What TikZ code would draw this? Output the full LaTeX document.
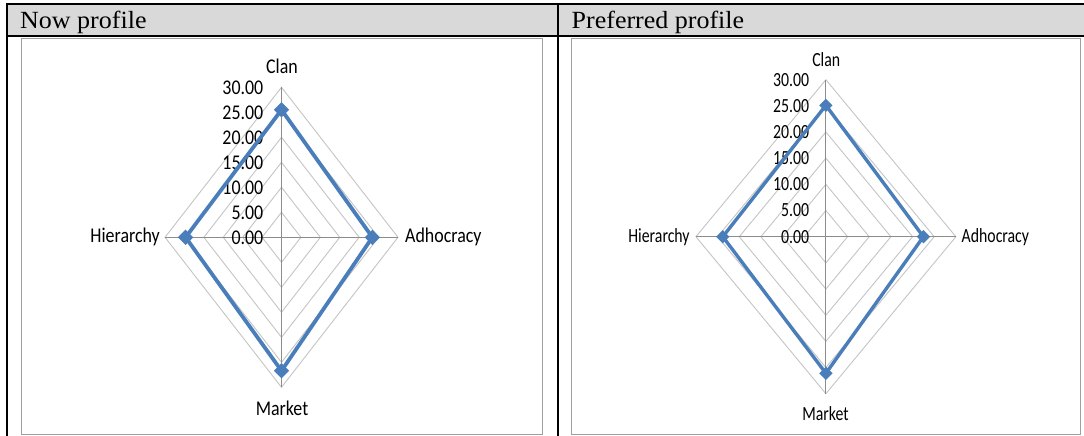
\documentclass[tikz,border=0pt]{standalone}
\usepackage{fontspec}
\usepackage{graphicx}
\setmainfont{Liberation Serif}
\newfontfamily\chartfont{Carlito}
\usetikzlibrary{shapes.geometric}

\definecolor{hdrfill}{HTML}{D9D9D9}
\definecolor{series}{HTML}{4A7EBB}
\definecolor{ringgray}{HTML}{C4C4C4}
\definecolor{spokegray}{HTML}{8C8C8C}
\definecolor{framegray}{HTML}{A0A0A0}

% text squeezed or stretched vertically
\newcommand\vstretch[2]{\scalebox{1}[#1]{#2}}

\tikzset{
  rule/.style={line width=2.2pt, black},
  hdrtext/.style={inner sep=0pt, font=\fontsize{26}{30}\selectfont},
  framebox/.style={draw=framegray, line width=1.3pt},
  ring/.style={draw=ringgray, line width=0.9pt},
  spoke/.style={draw=spokegray, line width=0.9pt},
  seriesline/.style={draw=series, line width=3.8pt, line join=miter},
  marker/.style={diamond, fill=series, inner sep=0pt, minimum size=15.5pt},
  catL/.style={inner sep=0pt, font=\chartfont\fontsize{17.9}{21}\selectfont},
  catR/.style={inner sep=0pt, font=\chartfont\fontsize{15.8}{19}\selectfont},
}

\begin{document}
\begin{tikzpicture}[x=1pt, y=-1pt]
\useasboundingbox (0,0) rectangle (1084,436);

% table header row
\fill[hdrfill] (8,5.4) rectangle (1084,35.2);
\draw[rule] (6,4.3) -- (1084,4.3);
\draw[rule] (6,36.3) -- (1084,36.3);
\draw[rule] (7,3.2) -- (7,436);
\draw[rule] (557.8,3.2) -- (557.8,436);

\node[hdrtext, anchor=base west] (nowhdr) at (20,28.5) {\vstretch{0.95}{Now profile}};
\node[hdrtext, anchor=base west] (prefhdr) at (571.5,28.5) {\vstretch{0.95}{Preferred profile}};

% chart frames
\draw[framebox] (21.5,38.6) rectangle (542.7,434.5);
\draw[framebox] (571.3,38.6) rectangle (1080.3,434.5);

% ---------- left radar chart: now profile (data units, y up) ----------
\begin{scope}[shift={(281.5,237.3)}, x=3.883pt, y=5pt]
  \foreach \r in {5,10,...,30}
    \draw[ring] (0,\r) -- (\r,0) -- (0,-\r) -- (-\r,0) -- cycle;
  \draw[spoke] (0,-30) -- (0,30) (-30,0) -- (30,0);
  \foreach \r in {0,5,...,30}
    \node[catL, anchor=east, xshift=-18pt] (tickL\r) at (0,\r) {\vstretch{1.17}{\r.00}};
  \coordinate (LC) at (0,25.5);
  \coordinate (LA) at (23.4,0);
  \coordinate (LM) at (0,-26.7);
  \coordinate (LH) at (-24.7,0);
  \draw[seriesline] (LC) -- (LA) -- (LM) -- (LH) -- cycle;
  \node[marker] (LCm) at (LC) {};
  \node[marker] (LAm) at (LA) {};
  \node[marker] (LMm) at (LM) {};
  \node[marker] (LHm) at (LH) {};
\end{scope}
\node[catL, anchor=center] (LClan) at (282,66) {\vstretch{1.17}{Clan}};
\node[catL, anchor=west] (LAdh) at (405,237.3) {\vstretch{1.17}{Adhocracy}};
\node[catL, anchor=east] (LHie) at (160,237.3) {\vstretch{1.17}{Hierarchy}};
\node[catL, anchor=center] (LMar) at (282,408) {\vstretch{1.17}{Market}};

% ---------- right radar chart: preferred profile (data units, y up) ----------
\begin{scope}[shift={(825.9,236.7)}, x=4.333pt, y=5.233pt]
  \foreach \r in {5,10,...,30}
    \draw[ring] (0,\r) -- (\r,0) -- (0,-\r) -- (-\r,0) -- cycle;
  \draw[spoke] (0,-30) -- (0,30) (-30,0) -- (30,0);
  \foreach \r in {0,5,...,30}
    \node[catR, anchor=east, xshift=-16.6pt] (tickR\r) at (0,\r) {\vstretch{1.27}{\r.00}};
  \coordinate (RC) at (0,25.1);
  \coordinate (RA) at (22.5,0);
  \coordinate (RM) at (0,-26.1);
  \coordinate (RH) at (-23.8,0);
  \draw[seriesline, line width=3.4pt] (RC) -- (RA) -- (RM) -- (RH) -- cycle;
  \node[marker, minimum size=13.5pt] (RCm) at (RC) {};
  \node[marker, minimum size=13.5pt] (RAm) at (RA) {};
  \node[marker, minimum size=13.5pt] (RMm) at (RM) {};
  \node[marker, minimum size=13.5pt] (RHm) at (RH) {};
\end{scope}
\node[catR, anchor=center] (RClan) at (826.2,60) {\vstretch{1.27}{Clan}};
\node[catR, anchor=west] (RAdh) at (961.5,236.7) {\vstretch{1.27}{Adhocracy}};
\node[catR, anchor=east] (RHie) at (689.8,236.7) {\vstretch{1.27}{Hierarchy}};
\node[catR, anchor=center] (RMar) at (825.5,414) {\vstretch{1.27}{Market}};

\end{tikzpicture}
\end{document}
